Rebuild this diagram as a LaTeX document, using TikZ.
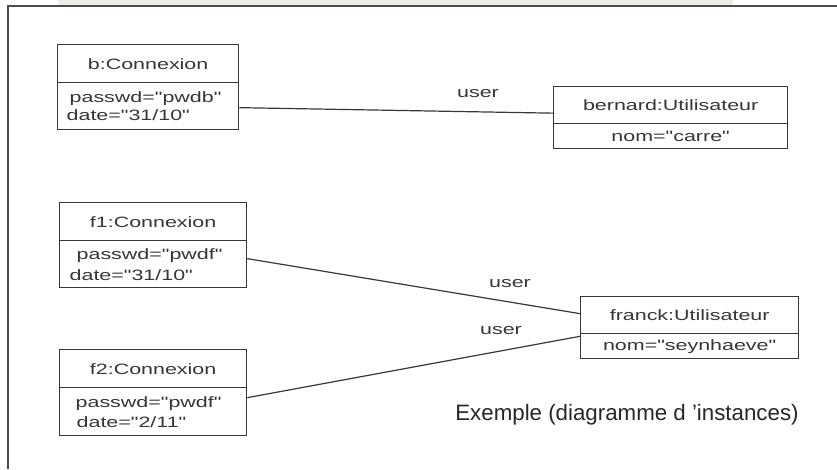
\documentclass[tikz,border=0pt]{standalone}
\usepackage{fontspec}
\setmainfont{Liberation Sans}
\newfontfamily\boxfont[FakeStretch=1.43]{Liberation Sans}
\definecolor{band}{HTML}{EEEDE6}
\definecolor{frameline}{HTML}{4A4A58}
\definecolor{umlline}{HTML}{383838}
\definecolor{umltext}{HTML}{363636}
\definecolor{captext}{HTML}{262630}
\tikzset{
  umlpart/.style={draw=umlline, line width=1.3pt, rectangle, inner sep=0pt, anchor=north west,
    text=umltext, font=\boxfont\fontsize{15}{17}\selectfont},
  attrpart/.style={umlpart, align=left},
  link/.style={draw=umlline, line width=1.2pt},
  rolelabel/.style={text=umltext, font=\boxfont\fontsize{15}{17}\selectfont, inner sep=0pt}
}
\begin{document}
\begin{tikzpicture}[x=1pt, y=-1pt]
\useasboundingbox (0,0) rectangle (837,469);
\fill[white] (0,0) rectangle (837,469);
% top band and frame
\fill[band] (58,0) rectangle (733,5.5);
\draw[frameline, line width=1.4pt] (8,469) -- (8,6) -- (837,6);

% b:Connexion
\node[umlpart, minimum width=181pt, minimum height=38pt] (bt) at (57,44) {b:Connexion};
\node[attrpart, minimum width=181pt, minimum height=47pt, text width=163pt, font=\boxfont\fontsize{15}{17.5}\selectfont] (ba) at (57,82) {\hspace*{3pt}passwd="pwdb"\\date="31/10"\\[-3pt]};

% bernard:Utilisateur
\node[umlpart, minimum width=234pt, minimum height=37pt] (nt) at (553,86) {bernard:Utilisateur};
\node[umlpart, minimum width=234pt, minimum height=25pt] (na) at (553,123) {nom="carre"};

% f1:Connexion
\node[umlpart, minimum width=187pt, minimum height=38pt] (f1t) at (59,202) {f1:Connexion};
\node[attrpart, minimum width=187pt, minimum height=47pt, text width=167pt, font=\boxfont\fontsize{15}{21}\selectfont] (f1a) at (59,240) {\hspace*{7pt}passwd="pwdf"\\date="31/10"};

% f2:Connexion
\node[umlpart, minimum width=187pt, minimum height=38pt] (f2t) at (59,349) {f2:Connexion};
\node[attrpart, minimum width=187pt, minimum height=48pt, text width=167pt, font=\boxfont\fontsize{15}{20}\selectfont] (f2a) at (59,387) {\hspace*{6pt}passwd="pwdf"\\\hspace*{7pt}date="2/11"};

% franck:Utilisateur
\node[umlpart, minimum width=218pt, minimum height=37pt] (ft) at (580,296) {franck:Utilisateur};
\node[umlpart, minimum width=218pt, minimum height=25pt] (fa) at (580,333) {nom="seynhaeve"};

% links
\draw[link] ([yshift=-1.5pt]ba.east) -- ([yshift=-8pt]nt.west);
\draw[link] ([yshift=5.5pt]f1a.east) -- ([yshift=1.5pt]ft.west);
\draw[link] ([yshift=14pt]f2a.east) -- ([yshift=-2pt]ft.south west);

% role labels
\node[rolelabel] (u1) at (478,94) {user};
\node[rolelabel] (u2) at (510,284) {user};
\node[rolelabel] (u3) at (501,331) {user};

% caption
\node[text=captext, font=\fontsize{22.3}{26}\selectfont, inner sep=0pt] (cap) at (627,415) {Exemple (diagramme d ’instances)};
\end{tikzpicture}
\end{document}
